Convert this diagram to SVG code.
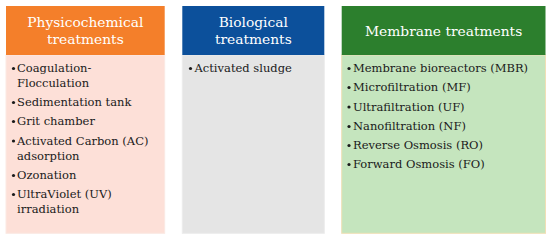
<svg xmlns="http://www.w3.org/2000/svg" width="550" height="240" viewBox="0 0 550 240">
<style>
.hd{font-family:"DejaVu Serif","Liberation Serif",serif;font-size:13.8px;fill:#ffffff;text-anchor:middle}
.it{font-family:"DejaVu Serif","Liberation Serif",serif;font-size:11.5px;fill:#1a1a1a}
.bl{fill:#1a1a1a}
</style>
<rect width="550" height="240" fill="#ffffff"/>
<g id="physicochemical">
<rect x="6" y="55" width="158.7" height="178.3" fill="#fde0d8" stroke="#fbe9e3" stroke-width="1"/>
<rect x="6" y="6" width="158.7" height="49" fill="#f47f2a"/>
<text class="hd" x="85.3" y="27">Physicochemical</text>
<text class="hd" x="85.3" y="44">treatments</text>
<circle class="bl" cx="13.5" cy="68.5" r="1.6"/>
<text class="it" x="17" y="72">Coagulation-</text>
<text class="it" x="17" y="87">Flocculation</text>
<circle class="bl" cx="13.5" cy="102.5" r="1.6"/>
<text class="it" x="17" y="106">Sedimentation tank</text>
<circle class="bl" cx="13.5" cy="121.5" r="1.6"/>
<text class="it" x="17" y="125">Grit chamber</text>
<circle class="bl" cx="13.5" cy="141" r="1.6"/>
<text class="it" x="17" y="144.5">Activated Carbon (AC)</text>
<text class="it" x="17" y="159.5">adsorption</text>
<circle class="bl" cx="13.5" cy="175.5" r="1.6"/>
<text class="it" x="17" y="179">Ozonation</text>
<circle class="bl" cx="13.5" cy="194.5" r="1.6"/>
<text class="it" x="17" y="198">UltraViolet (UV)</text>
<text class="it" x="17" y="213">irradiation</text>
</g>
<g id="biological">
<rect x="182.3" y="55" width="142" height="178.3" fill="#e5e5e5" stroke="#ececec" stroke-width="1"/>
<rect x="182.3" y="6" width="142" height="49" fill="#0c509b"/>
<text class="hd" x="253.3" y="27">Biological</text>
<text class="hd" x="253.3" y="44">treatments</text>
<circle class="bl" cx="190.5" cy="68.5" r="1.6"/>
<text class="it" x="194.5" y="72">Activated sludge</text>
</g>
<g id="membrane">
<rect x="341.7" y="55" width="203.8" height="178.3" fill="#c5e5be" stroke="#f0dfb6" stroke-width="1"/>
<rect x="341.7" y="6" width="203.8" height="49" fill="#2c7f2d"/>
<text class="hd" x="443.6" y="36">Membrane treatments</text>
<circle class="bl" cx="349" cy="68.5" r="1.6"/>
<text class="it" x="353" y="72">Membrane bioreactors (MBR)</text>
<circle class="bl" cx="349" cy="87.5" r="1.6"/>
<text class="it" x="353" y="91">Microfiltration (MF)</text>
<circle class="bl" cx="349" cy="107" r="1.6"/>
<text class="it" x="353" y="110.5">Ultrafiltration (UF)</text>
<circle class="bl" cx="349" cy="126.5" r="1.6"/>
<text class="it" x="353" y="130">Nanofiltration (NF)</text>
<circle class="bl" cx="349" cy="145.5" r="1.6"/>
<text class="it" x="353" y="149">Reverse Osmosis (RO)</text>
<circle class="bl" cx="349" cy="164.5" r="1.6"/>
<text class="it" x="353" y="168">Forward Osmosis (FO)</text>
</g>
<g id="connectors"/>
</svg>
